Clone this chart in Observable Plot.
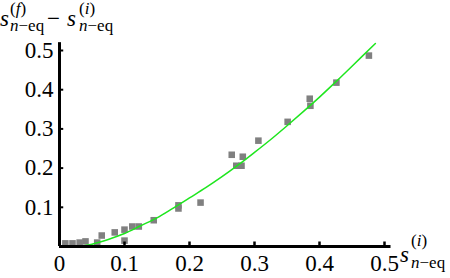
<!DOCTYPE html>
<html>
<head>
<meta charset="utf-8">
<script src="https://cdn.jsdelivr.net/npm/d3@7"></script>
<script src="https://cdn.jsdelivr.net/npm/@observablehq/plot@0.6"></script>
<style>
html, body { margin: 0; padding: 0; background: #fff; }
#chart { width: 450px; height: 278px; overflow: hidden; }
#chart svg, #chart text, #chart tspan { font-family: "Liberation Serif", serif !important; }
</style>
</head>
<body>
<div id="chart"></div>
<script>
// Scatter data
const pointX = [0.009, 0.020, 0.031, 0.040, 0.058, 0.065, 0.085, 0.100, 0.100, 0.112, 0.122, 0.145, 0.183, 0.183, 0.217, 0.265, 0.282, 0.272, 0.280, 0.306, 0.351, 0.385, 0.386, 0.426, 0.476];
const pointY = [0.008, 0.008, 0.010, 0.013, 0.010, 0.028, 0.036, 0.043, 0.015, 0.051, 0.051, 0.067, 0.105, 0.097, 0.112, 0.234, 0.229, 0.206, 0.206, 0.270, 0.318, 0.377, 0.359, 0.418, 0.487];

// Fitted curve
const curveX = [0.03, 0.05, 0.075, 0.10, 0.125, 0.15, 0.175, 0.20, 0.225, 0.25, 0.275, 0.30, 0.325, 0.35, 0.375, 0.40, 0.425, 0.45, 0.486];
const curveY = [0.000, 0.006, 0.018, 0.033, 0.053, 0.073, 0.098, 0.124, 0.150, 0.178, 0.208, 0.240, 0.273, 0.308, 0.344, 0.381, 0.420, 0.460, 0.518];

// Ticks
const xTicks = [0, 0.1, 0.2, 0.3, 0.4, 0.5];
const xTickLabels = ["0", "0.1", "0.2", "0.3", "0.4", "0.5"];
const yTicks = [0.1, 0.2, 0.3, 0.4, 0.5];
const yTickLabels = ["0.1", "0.2", "0.3", "0.4", "0.5"];

const points = pointX.map((x, i) => ({x, y: pointY[i]}));
const curve = curveX.map((x, i) => ({x, y: curveY[i]}));
const xt = xTicks.map((v, i) => ({v, label: xTickLabels[i]}));
const yt = yTicks.map((v, i) => ({v, label: yTickLabels[i]}));

const FONT = "Liberation Serif";

const chart = Plot.plot({
  width: 450,
  height: 278,
  style: {background: "white", overflow: "visible"},
  x: {domain: [0, 0.5], range: [59, 384], axis: null},
  y: {domain: [0, 0.5], range: [246, 50], axis: null},
  marks: [
    Plot.dot(points, {x: "x", y: "y", symbol: "square", r: 3.7, fill: "#808080", stroke: "none"}),
    Plot.line(curve, {x: "x", y: "y", stroke: "#1ee61e", strokeWidth: 1.5, curve: "catmull-rom"}),
    // axes lines
    Plot.ruleY([0], {x1: 0, x2: 0.51, stroke: "black", strokeWidth: 3}),
    Plot.ruleX([0], {y1: 0, y2: 0.52, stroke: "black", strokeWidth: 3}),
    // ticks
    Plot.ruleX(xt.filter(d => d.v > 0), {x: "v", y1: 0, y2: 0.0115, stroke: "black", strokeWidth: 2.5}),
    Plot.ruleY(yt, {y: "v", x1: 0, x2: 0.0065, stroke: "black", strokeWidth: 2}),
    // tick labels
    Plot.text(xt, {x: "v", y: () => 0, text: "label", lineAnchor: "top", dy: 8, fontSize: 23, fontFamily: FONT, fill: "black"}),
    Plot.text(yt, {x: () => 0, y: "v", text: "label", textAnchor: "end", dx: -6, fontSize: 23, fontFamily: FONT, fill: "black"})
  ]
});

document.getElementById("chart").appendChild(chart);

// Math-style axis labels
const svg = d3.select(chart);
function piece(g, x, y, size, segs) {
  const t = g.append("text")
    .attr("x", x).attr("y", y)
    .attr("text-anchor", "start")
    .attr("font-family", FONT)
    .attr("font-size", size)
    .attr("fill", "black");
  segs.forEach(([s, it]) => t.append("tspan").attr("font-style", it ? "italic" : "normal").text(s));
  return t;
}
function scripted(g, x, base, supUp, subDown, sup, sub) {
  piece(g, x, base - supUp, 17, sup);
  piece(g, x, base + subDown, 17, sub);
}
const supF = [["(", false], ["f", true], [")", false]];
const supI = [["(", false], ["i", true], [")", false]];
const subNeq = [["n", true], ["\u2212eq", false]];

const gy = svg.append("g");
piece(gy, 0, 26, 23, [["s", true]]);
scripted(gy, 10, 26, 12, 5, supF, subNeq);
piece(gy, 47, 26, 23, [["\u2212", false]]);
piece(gy, 67, 26, 23, [["s", true]]);
scripted(gy, 79, 26, 12, 5, supI, subNeq);

const gx = svg.append("g");
piece(gx, 400, 262, 23, [["s", true]]);
scripted(gx, 411, 262, 16, 6, supI, subNeq);
</script>
</body>
</html>
